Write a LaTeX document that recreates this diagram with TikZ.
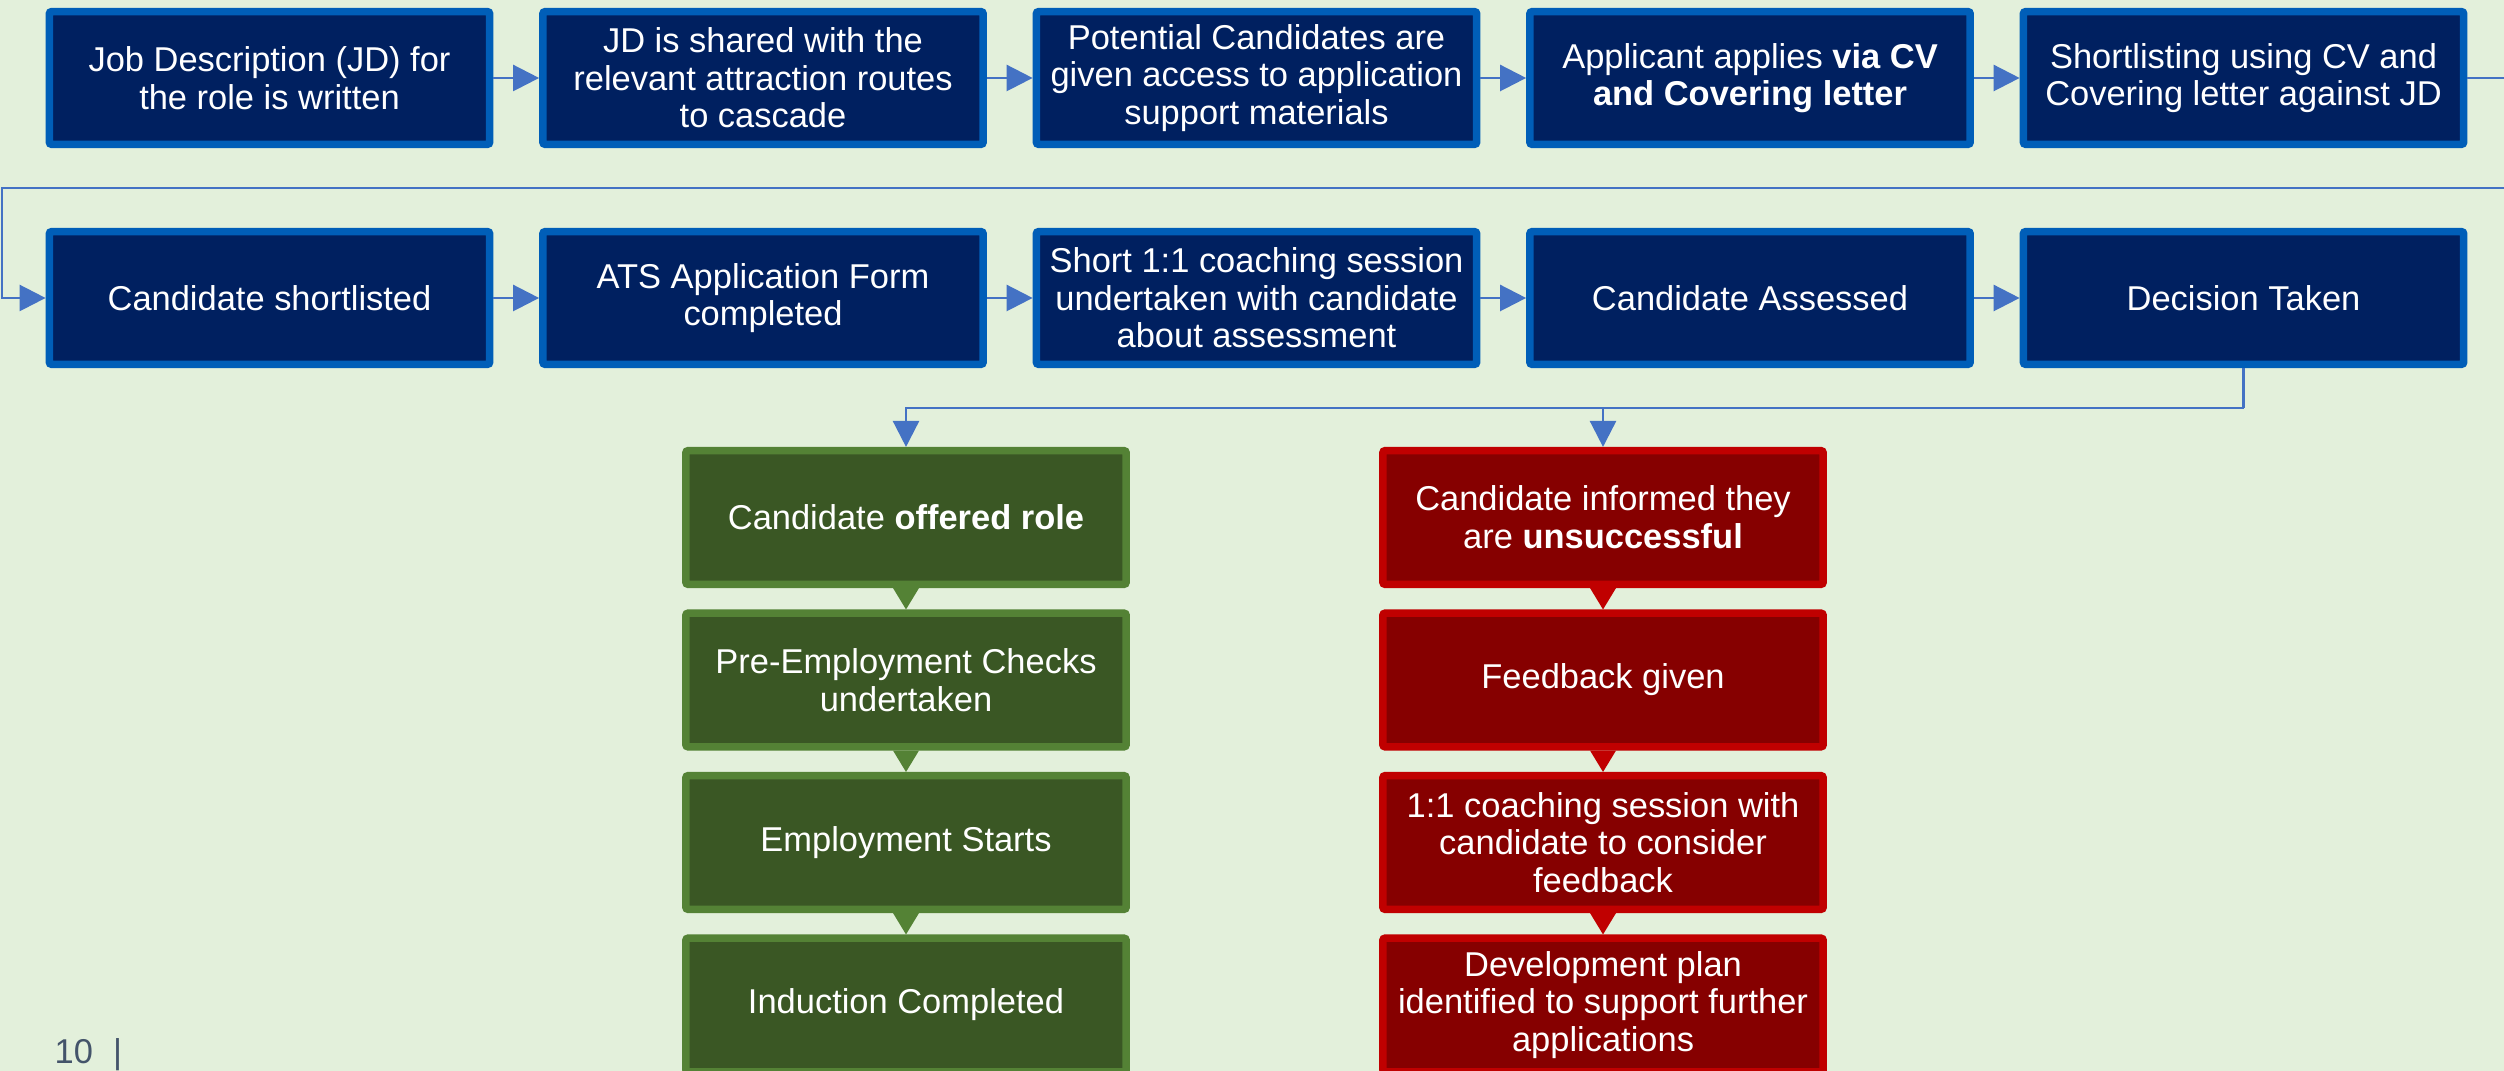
\documentclass[tikz,border=0pt]{standalone}
\usepackage{fontspec}
\setmainfont{Liberation Sans}
\usetikzlibrary{arrows.meta}
\definecolor{navy}{HTML}{002060}
\definecolor{nhsblue}{HTML}{005EB8}
\definecolor{flowblue}{HTML}{4472C4}
\definecolor{offerfill}{HTML}{3A5724}
\definecolor{offeredge}{HTML}{548235}
\definecolor{rejectfill}{HTML}{860000}
\definecolor{rejectedge}{HTML}{C00000}
\definecolor{pagebg}{HTML}{E3F0DB}
\definecolor{pagenum}{HTML}{44546A}
\begin{document}
\begin{tikzpicture}[x=0.01cm,y=-0.01cm,
    stagebox/.style={draw=nhsblue,fill=navy,line width=0.075cm,rounded corners=0.6pt,
        minimum width=4.4cm,minimum height=1.325cm,inner sep=1pt,align=center,
        text=white,font=\fontsize{9.8}{10.7}\selectfont},
    offerbox/.style={stagebox,draw=offeredge,fill=offerfill,minimum height=1.335cm},
    rejectbox/.style={stagebox,draw=rejectedge,fill=rejectfill,minimum height=1.335cm},
    flowline/.style={flowblue,line width=0.025cm},
    flow/.style={flowline,-{Triangle[length=0.26cm,width=0.26cm]}}]
    \useasboundingbox (0,0) rectangle (2504,1071);
    \clip (0,0) rectangle (2504,1071);
    \fill[pagebg] (0,0) rectangle (2504,1071);
    % first row of the process
    \foreach \i/\txt in {1/{Job Description (JD) for\\the role is written},
        2/{JD is shared with the\\relevant attraction routes\\to cascade},
        3/{Potential Candidates are\\given access to application\\support materials},
        4/{Applicant applies \textbf{via CV}\\\textbf{and Covering letter}},
        5/{Shortlisting using CV and\\Covering letter against JD}}
    \node[stagebox] (a\i) at ({-224+493.5*\i},78) {\txt};
    % second row
    \foreach \i/\txt in {1/{Candidate shortlisted},
        2/{ATS Application Form\\completed},
        3/{Short 1:1 coaching session\\undertaken with candidate\\about assessment},
        4/{Candidate Assessed},
        5/{Decision Taken}}
    \node[stagebox] (b\i) at ({-224+493.5*\i},298) {\txt};
    \foreach \i [count=\j from 2] in {1,...,4}
    {
        \draw[flow] (a\i) -- (a\j);
        \draw[flow] (b\i) -- (b\j);
    }
    % wrap round to the second row
    \coordinate (wrap) at (2,188);
    \draw[flow] (a5.east) -- ++(80,0) |- (wrap) |- (b1.west);
    % outcome columns
    \foreach \i/\txt in {1/{Candidate \textbf{offered role}},
        2/{Pre-Employment Checks\\undertaken},
        3/{Employment Starts},
        4/{Induction Completed}}
    \node[offerbox] (g\i) at (906,{355+162.5*\i}) {\txt};
    \foreach \i/\txt in {1/{Candidate informed they\\are \textbf{unsuccessful}},
        2/{Feedback given},
        3/{1:1 coaching session with\\candidate to consider\\feedback},
        4/{Development plan\\identified to support further\\applications}}
    \node[rejectbox] (r\i) at (1603,{355+162.5*\i}) {\txt};
    \draw[flowline] (b5.south) -- ++(0,40) coordinate (fork);
    \draw[flow] (fork) -| (g1.north);
    \draw[flow] (fork -| r1.north) -- (r1.north);
    \foreach \i [count=\j from 2] in {1,2,3}
    {
        \fill[offeredge] ([xshift=-0.13cm]g\i.south) -- ([xshift=0.13cm]g\i.south) -- (g\j.north) -- cycle;
        \fill[rejectedge] ([xshift=-0.13cm]r\i.south) -- ([xshift=0.13cm]r\i.south) -- (r\j.north) -- cycle;
    }
    \node[anchor=base west,inner sep=0pt,text=pagenum,font=\fontsize{9.8}{10.7}\selectfont] (page) at (54,1063) {10\hspace{0.2cm}|};
\end{tikzpicture}
\end{document}
